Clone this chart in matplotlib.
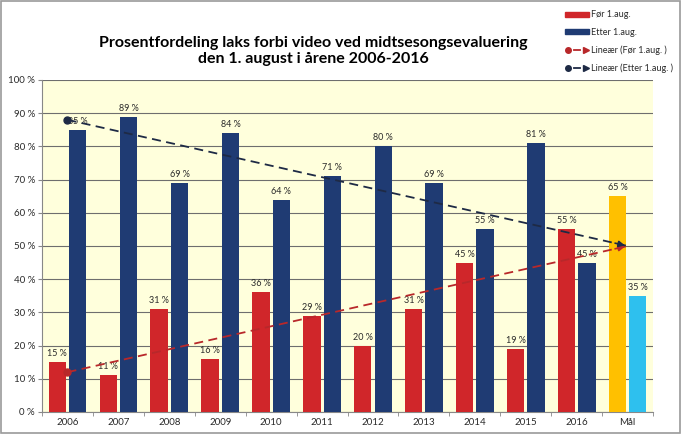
import numpy as np
import matplotlib
matplotlib.use("Agg")
import matplotlib.pyplot as plt
from matplotlib.lines import Line2D
from matplotlib.patches import Patch
from matplotlib.legend_handler import HandlerTuple

plt.rcParams['font.family'] = ['Lato', 'DejaVu Sans']

years = ['2006', '2007', '2008', '2009', '2010', '2011', '2012', '2013', '2014', '2015', '2016']
for_aug = [15, 11, 31, 16, 36, 29, 20, 31, 45, 19, 55]
etter_aug = [85, 89, 69, 84, 64, 71, 80, 69, 55, 81, 45]
maal_label = 'Mål'
maal_for = 65
maal_etter = 35
# trend lines: value at 2006 and at Mål
trend_for = [12, 50]
trend_etter = [88, 50]

red = '#D0262A'
blue = '#1F3B73'
yellow = '#FFC000'
cyan = '#2EC0EE'
txt = '#2A2A2A'

fig = plt.figure(figsize=(6.82, 4.34), dpi=100)
ax = fig.add_axes([0.0616, 0.0507, 0.896, 0.765])
ax.set_facecolor('#FFFFDC')

x = np.arange(len(years))
w = 0.34
off = 0.2
b1 = ax.bar(x - off, for_aug, w, color=red, zorder=3)
b2 = ax.bar(x + off, etter_aug, w, color=blue, zorder=3)
xm = len(years)
b3 = ax.bar(xm - off, maal_for, w, color=yellow, zorder=3)
b4 = ax.bar(xm + off, maal_etter, w, color=cyan, zorder=3)

for bars in (b1, b2, b3, b4):
    for r in bars:
        ax.text(r.get_x() + r.get_width() / 2, r.get_height() + 1.2, f'{r.get_height():.0f} %',
                ha='center', va='bottom', fontsize=6.5, color=txt, zorder=4)

# trend lines
for tv, col in ((trend_for, '#B8282A'), (trend_etter, '#1E2A45')):
    ax.plot([0, xm], tv, ls=(0, (5, 3)), color=col, lw=1.3, zorder=5)
    ax.plot([0], [tv[0]], marker='o', color=col, ms=5, zorder=5)
    ax.annotate('', xy=(xm, tv[1]), xytext=(xm - 0.3, tv[1] + (tv[0] - tv[1]) * 0.3 / xm),
                arrowprops=dict(arrowstyle='-|>', color=col, lw=1.2, mutation_scale=9), zorder=5)

ax.set_xlim(-0.5, xm + 0.5)
ax.set_ylim(0, 100)
ax.set_yticks(np.arange(0, 101, 10))
ax.set_yticklabels([f'{v} %' for v in range(0, 101, 10)], fontsize=7, color=txt)
ax.set_xticks(list(x) + [xm])
ax.set_xticklabels(years + [maal_label], fontsize=7, color=txt)
ax.set_xticks(np.arange(-0.5, xm + 1, 1), minor=True)
ax.tick_params(axis='x', which='major', length=0, pad=4)
ax.tick_params(axis='x', which='minor', length=3, color='#888888')
ax.tick_params(axis='y', length=3, color='#888888', pad=2)
ax.grid(axis='y', color='#6E6E6E', lw=0.8, zorder=1)
for s in ('top', 'right'):
    ax.spines[s].set_visible(False)
for s in ('left', 'bottom'):
    ax.spines[s].set_color('#888888')

fig.text(0.459, 0.882, 'Prosentfordeling laks forbi video ved midtsesongsevaluering\nden 1. august i årene 2006-2016',
         ha='center', va='center', fontsize=11.5, fontweight='bold', linespacing=1.2)

handles = [
    Patch(color=red),
    Patch(color=blue),
    (Line2D([], [], marker='o', color='#B8282A', ls='', ms=4),
     Line2D([], [], color='#B8282A', ls='-', lw=1.3),
     Line2D([], [], marker='>', color='#B8282A', ls='', ms=4)),
    (Line2D([], [], marker='o', color='#1E2A45', ls='', ms=4),
     Line2D([], [], color='#1E2A45', ls='-', lw=1.3),
     Line2D([], [], marker='>', color='#1E2A45', ls='', ms=4)),
]
labels = ['Før 1.aug.', 'Etter 1.aug.', 'Lineær (Før 1.aug. )', 'Lineær (Etter 1.aug. )']
leg = fig.legend(handles, labels, loc='upper left', bbox_to_anchor=(0.817, 0.995),
                 fontsize=6.5, frameon=False, handlelength=2.6, handleheight=0.5,
                 labelspacing=0.95, handletextpad=0.3,
                 handler_map={tuple: HandlerTuple(ndivide=None, pad=0.3)})
for t in leg.get_texts():
    t.set_color(txt)

fig.patches.append(plt.Rectangle((0.002, 0.003), 0.995, 0.994, transform=fig.transFigure,
                                 fill=False, ec='#9A9A9A', lw=1.2))

fig.savefig('out.png', dpi=100)
